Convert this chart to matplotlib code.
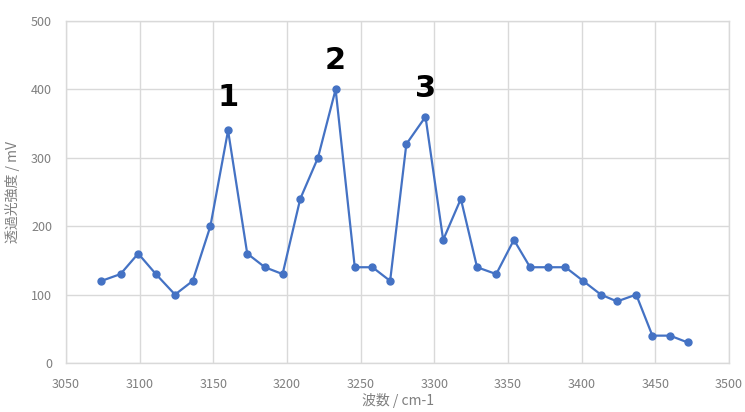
import matplotlib
matplotlib.use("Agg")
import matplotlib.pyplot as plt

plt.rcParams['font.family'] = ['Noto Sans CJK JP', 'DejaVu Sans']

# wavenumber (cm-1) and transmitted light intensity (mV)
wavenumber = [3074, 3087, 3099, 3111, 3124, 3136, 3148, 3160, 3173, 3185,
              3197, 3209, 3221, 3233, 3246, 3258, 3270, 3281, 3294, 3306,
              3318, 3329, 3342, 3354, 3365, 3377, 3389, 3401, 3413, 3424,
              3437, 3448, 3460, 3472]
intensity = [120, 130, 160, 130, 100, 120, 200, 340, 160, 140,
             130, 240, 300, 400, 140, 140, 120, 320, 360, 180,
             240, 140, 130, 180, 140, 140, 140, 120, 100, 90,
             100, 40, 40, 30]

# peak labels
peak_labels = ["1", "2", "3"]
peak_x = [3160, 3233, 3294]
peak_y = [388, 442, 401]

fig = plt.figure(figsize=(7.45, 4.12), dpi=100)
ax = fig.add_axes([66 / 745, 1 - 363 / 412, 663 / 745, 342 / 412])

blue = '#4472C4'
ax.plot(wavenumber, intensity, color=blue, lw=1.6, marker='o', ms=5,
        markerfacecolor=blue, markeredgecolor=blue, zorder=3)

for lab, px, py in zip(peak_labels, peak_x, peak_y):
    ax.text(px, py, lab, ha='center', va='center', fontsize=22,
            fontweight='bold', family=['DejaVu Sans'], color='black')

ax.set_xlim(3050, 3500)
ax.set_ylim(0, 500)
ax.set_xticks(range(3050, 3501, 50))
ax.set_yticks(range(0, 501, 100))
ax.grid(True, color='#d9d9d9', lw=1.0)
ax.set_axisbelow(True)
for s in ax.spines.values():
    s.set_color('#d9d9d9')
    s.set_linewidth(1.0)
ax.tick_params(length=0, labelsize=9, labelcolor='#7f7f7f', pad=10)
ax.tick_params(axis='x', pad=11)

ax.set_xlabel('波数 / cm-1', fontsize=10, color='#7f7f7f', labelpad=1)
ax.set_ylabel('透過光強度 / mV', fontsize=10, color='#7f7f7f', labelpad=8)

fig.savefig('out.png', dpi=100)
